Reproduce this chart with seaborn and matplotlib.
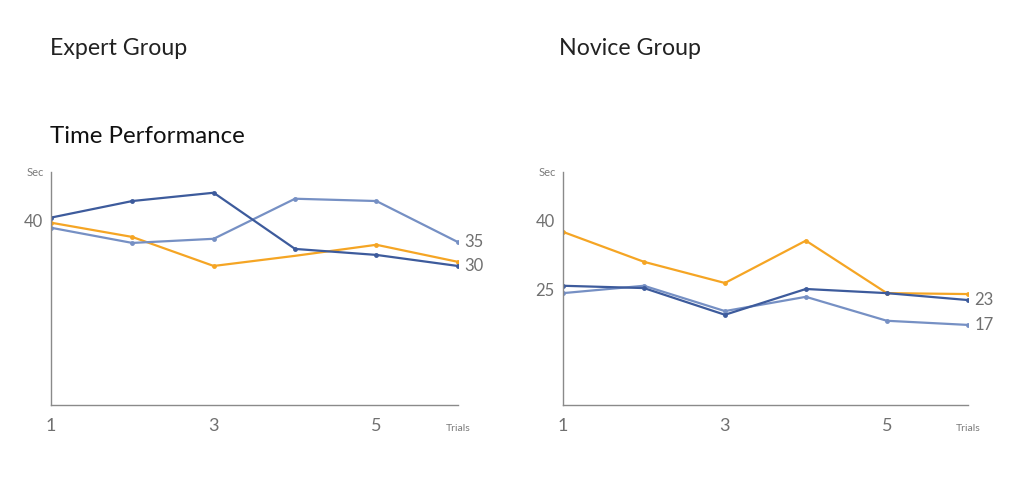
import seaborn as sns
import matplotlib.pyplot as plt
import pandas as pd

trials = [1, 2, 3, 4, 5, 6]

# expert group, seconds per trial
expert_dark = [40.7, 44.3, 46.1, 33.9, 32.6, 30.2]
expert_light = [38.5, 35.2, 36.1, 44.8, 44.3, 35.4]
expert_orange = [39.6, 36.5, 30.2, 32.4, 34.8, 31.1]

# novice group
novice_dark = [25.9, 25.4, 19.6, 25.2, 24.3, 22.8]
novice_light = [24.3, 25.9, 20.4, 23.5, 18.3, 17.4]
novice_orange = [37.6, 31.1, 26.5, 35.7, 24.3, 24.1]

expert_yticks = [40]
novice_yticks = [40, 25]
expert_end_labels = {"35": 35.4, "30": 30.2}
novice_end_labels = {"23": 22.8, "17": 17.4}

colors = {"dark": "#3d5b9c", "light": "#7690c4", "orange": "#f5a524"}

sns.set_style("white")
plt.rcParams["font.family"] = ["Lato", "DejaVu Sans"]

fig = plt.figure(figsize=(10.17, 4.88), dpi=100)
ax1 = fig.add_axes([0.0501, 0.170, 0.400, 0.4775])
ax2 = fig.add_axes([0.5536, 0.170, 0.398, 0.4775])


def draw(ax, dark, light, orange, yticks, end_labels, orange_marks=None):
    df = pd.DataFrame({
        "trial": trials * 3,
        "sec": dark + light + orange,
        "series": ["dark"] * 6 + ["light"] * 6 + ["orange"] * 6,
    })
    sns.lineplot(data=df, x="trial", y="sec", hue="series", palette=colors,
                 hue_order=["orange", "light", "dark"], marker="o",
                 markersize=3.5, markeredgewidth=0, linewidth=1.6,
                 legend=False, ax=ax)
    if orange_marks is not None:
        ax.lines[0].set_markevery(orange_marks)
    ax.set_xlim(1, 6)
    ax.set_ylim(0, 50.6)
    ax.set_xticks([1, 3, 5])
    ax.set_yticks(yticks)
    ax.tick_params(axis="x", length=0, labelsize=13, labelcolor="#707070", pad=9)
    ax.tick_params(axis="y", length=0, labelsize=12, labelcolor="#707070", pad=6)
    ax.set_xlabel("")
    ax.set_ylabel("")
    for s in ["top", "right"]:
        ax.spines[s].set_visible(False)
    for s in ["left", "bottom"]:
        ax.spines[s].set_color("#8a8a8a")
        ax.spines[s].set_linewidth(1.0)
    ax.text(-0.018, 1.0, "Sec", transform=ax.transAxes, ha="right", va="center",
            fontsize=8, color="#7a7a7a")
    ax.text(1.0, -0.099, "Trials", transform=ax.transAxes, ha="center", va="center",
            fontsize=7.5, color="#7a7a7a")
    for lab, v in end_labels.items():
        ax.text(6.08, v, lab, ha="left", va="center", fontsize=12,
                color="#707070", clip_on=False)


draw(ax1, expert_dark, expert_light, expert_orange, expert_yticks,
     expert_end_labels, orange_marks=[0, 1, 2, 4, 5])
draw(ax2, novice_dark, novice_light, novice_orange, novice_yticks, novice_end_labels)

fig.text(0.049, 0.90, "Expert Group", fontsize=16.7, color="#222222", va="center")
fig.text(0.550, 0.90, "Novice Group", fontsize=16.7, color="#222222", va="center")
fig.text(0.049, 0.72, "Time Performance", fontsize=17.3, color="#111111", va="center")

fig.savefig("out.png", dpi=100)
